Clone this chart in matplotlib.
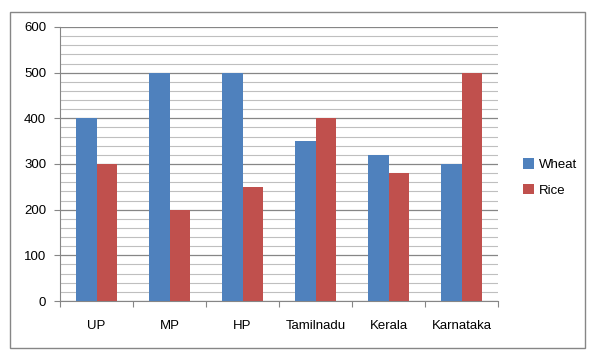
import matplotlib.pyplot as plt
import numpy as np
from matplotlib.patches import Rectangle

states = ["UP", "MP", "HP", "Tamilnadu", "Kerala", "Karnataka"]
wheat = [400, 500, 500, 350, 320, 300]
rice = [300, 200, 250, 400, 280, 500]

plt.rcParams['font.family'] = ['Liberation Sans', 'DejaVu Sans']

fig = plt.figure(figsize=(6, 3.64), dpi=100)
# outer chart border like the Excel chart frame
fig.patches.append(Rectangle((10 / 600, 16 / 364), 575 / 600, 336 / 364,
                             transform=fig.transFigure, fill=False,
                             edgecolor="#868686", linewidth=1))

ax = fig.add_axes([60 / 600, 63 / 364, 438 / 600, 274 / 364])
x = np.arange(len(states))
w = 0.285
ax.bar(x - w / 2, wheat, w, color="#4F81BD", label="Wheat", zorder=3)
ax.bar(x + w / 2, rice, w, color="#C0504D", label="Rice", zorder=3)

ax.set_xlim(-0.5, len(states) - 0.5)
ax.set_ylim(0, 600)
ax.set_yticks(range(0, 601, 100))
ax.set_yticks(range(0, 601, 20), minor=True)
ax.grid(axis="y", which="major", color="#868686", linewidth=0.9, zorder=0)
ax.grid(axis="y", which="minor", color="#BFBFBF", linewidth=0.8, zorder=0)

# category labels centred, tick marks at the boundaries
ax.set_xticks(np.arange(-0.5, len(states)))
ax.set_xticklabels([])
ax.set_xticks(x, minor=True)
ax.set_xticklabels(states, minor=True, fontsize=9.5)
ax.tick_params(axis="x", which="major", length=4, color="#868686")
ax.tick_params(axis="x", which="minor", length=0, pad=14)
ax.tick_params(axis="y", which="major", length=4, color="#868686", labelsize=9.5, pad=6)
ax.tick_params(axis="y", which="minor", length=0)

for s in ["top", "right"]:
    ax.spines[s].set_visible(False)
for s in ["left", "bottom"]:
    ax.spines[s].set_color("#868686")

ax.legend(loc="center left", bbox_to_anchor=(1.03, 0.45), frameon=False,
          fontsize=9.5, handlelength=0.8, handleheight=0.8, labelspacing=1.0,
          handletextpad=0.4)

fig.savefig("out.png")
